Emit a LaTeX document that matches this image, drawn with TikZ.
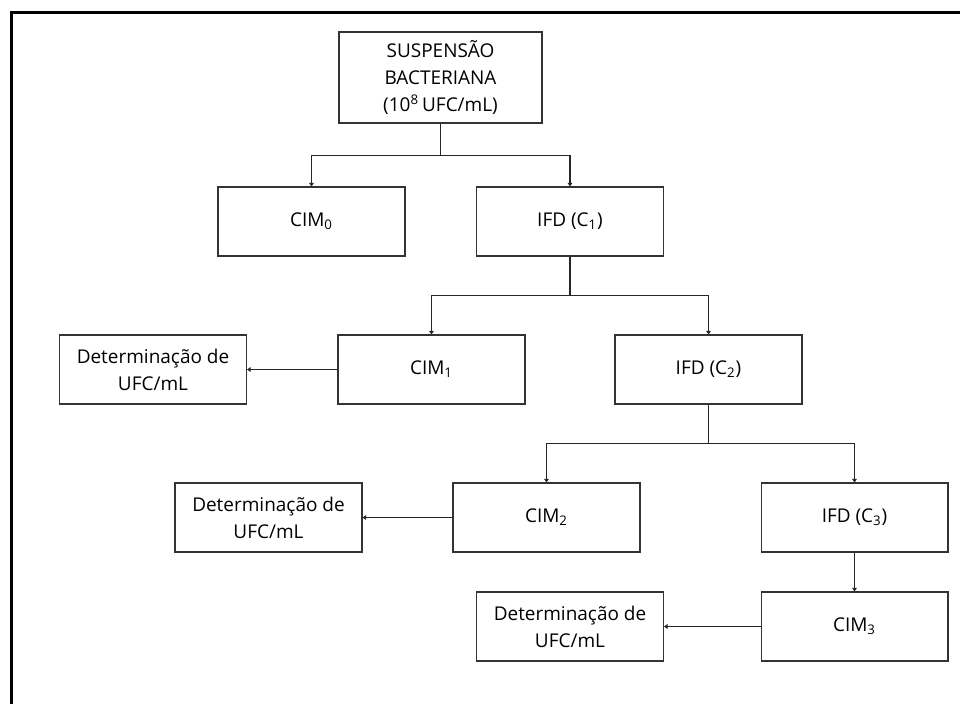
\documentclass[tikz,border=0pt]{standalone}
\usepackage{fontspec}
\setmainfont{Open Sans}
\usetikzlibrary{arrows.meta}
\begin{document}
\begin{tikzpicture}[x=0.02cm,y=-0.02cm,
  box/.style={draw=black!80,line width=0.6pt,minimum width=3.74cm,minimum height=1.38cm,
    inner sep=0pt,align=center,font=\fontsize{10.8}{15.3}\selectfont},
  link/.style={draw=black!85,line width=0.6pt,-{Triangle[length=2pt,width=2.6pt]}}]
  \useasboundingbox (0,0) rectangle (960,704);
  \draw[line width=1.8pt] (11.5,704) -- (11.5,12.5) -- (960,12.5);
  \node[box,minimum width=4.06cm,minimum height=1.82cm] (susp) at (440.5,77.5)
    {SUSPENSÃO\\BACTERIANA\\(10\textsuperscript{8}\,UFC/mL)};
  \node[box] (cim0) at (311.5,221.5) {CIM\textsubscript{0}};
  \node[box] (ifd1) at (570,221.5) {IFD (C\textsubscript{1})};
  \node[box] (det1) at (153,369.5) {Determinação de\\UFC/mL};
  \node[box] (cim1) at (431.5,369.5) {CIM\textsubscript{1}};
  \node[box] (ifd2) at (708.5,369.5) {IFD (C\textsubscript{2})};
  \node[box] (det2) at (268.5,517.5) {Determinação de\\UFC/mL};
  \node[box] (cim2) at (546.5,517.5) {CIM\textsubscript{2}};
  \node[box] (ifd3) at (854.5,517.5) {IFD (C\textsubscript{3})};
  \node[box] (det3) at (570,626.5) {Determinação de\\UFC/mL};
  \node[box] (cim3) at (854.5,626.5) {CIM\textsubscript{3}};
  \draw[link] (susp.south) -- +(0,32) -| (cim0.north);
  \draw[link] (susp.south) -- +(0,32) -| (ifd1.north);
  \draw[link] (ifd1.south) -- +(0,39) -| (cim1.north);
  \draw[link] (ifd1.south) -- +(0,39) -| (ifd2.north);
  \draw[link] (ifd2.south) -- +(0,39) -| (cim2.north);
  \draw[link] (ifd2.south) -- +(0,39) -| (ifd3.north);
  \draw[link] (ifd3) -- (cim3);
  \draw[link] (cim1) -- (det1);
  \draw[link] (cim2) -- (det2);
  \draw[link] (cim3) -- (det3);
\end{tikzpicture}
\end{document}
